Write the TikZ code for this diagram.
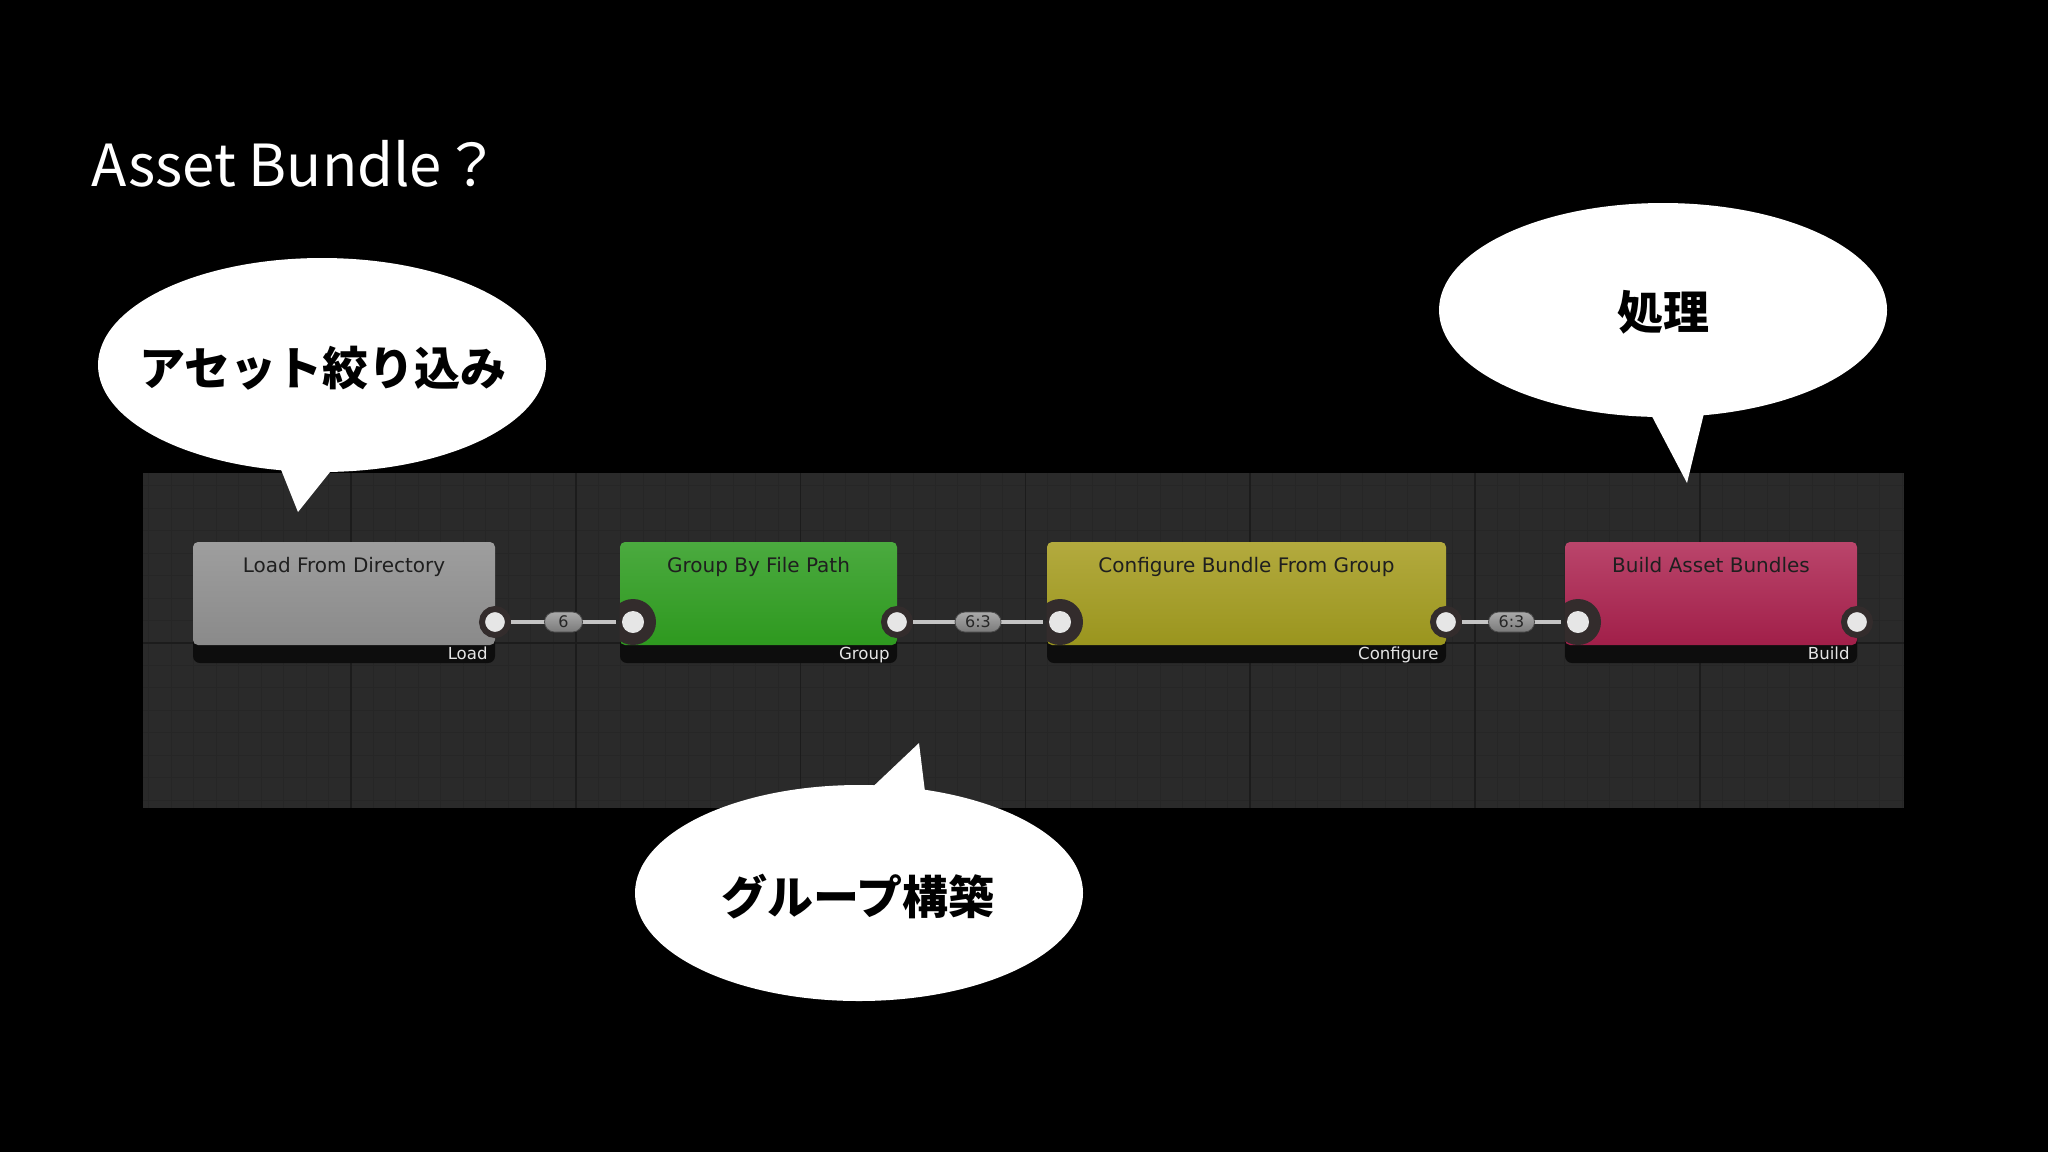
\documentclass[tikz,border=0pt]{standalone}
\usepackage{fontspec}
\newfontfamily\jp{Noto Sans CJK JP}
\newfontfamily\ui{DejaVu Sans}
\usetikzlibrary{shapes.geometric}
\definecolor{panelc}{HTML}{2A2A2A}
\definecolor{minorc}{HTML}{262626}
\definecolor{majorc}{HTML}{1C1C1C}
\definecolor{footc}{HTML}{0D0D0D}
\definecolor{portc}{HTML}{E6E6E6}
\definecolor{ringc}{HTML}{332C2C}
\definecolor{connc}{HTML}{C4C4C4}
\definecolor{grayT}{HTML}{9E9E9E}
\definecolor{grayB}{HTML}{8A8A8A}
\definecolor{greenT}{HTML}{4BAA3F}
\definecolor{greenB}{HTML}{2E991F}
\definecolor{yelT}{HTML}{B3AA3E}
\definecolor{yelB}{HTML}{9A951E}
\definecolor{redT}{HTML}{BA456B}
\definecolor{redB}{HTML}{A11F49}
\definecolor{pillT}{HTML}{AAAAAA}
\definecolor{pillB}{HTML}{7A7A7A}
\begin{document}
\begin{tikzpicture}[x=0.5pt,y=-0.5pt,
  body/.style={rectangle, rounded corners=2.5pt, minimum height=51.5pt, inner sep=0pt, draw=none},
  footer/.style={rectangle, rounded corners=3.5pt, fill=footc, minimum height=26.5pt, inner sep=0pt},
  ntitle/.style={font=\ui\fontsize{10}{12}\selectfont, text=black!88, inner sep=0pt},
  flabel/.style={font=\ui\fontsize{8.3}{10}\selectfont, text=white!90!black, inner sep=0pt},
  outport/.style={circle, fill=portc, draw=ringc, line width=3pt, minimum size=13pt, inner sep=0pt},
  inport/.style={circle, fill=portc, draw=none, minimum size=11pt, inner sep=0pt, outer sep=3pt},
  ring/.style={fill=ringc},
  conn/.style={draw=connc, line width=2pt},
  pill/.style={rectangle, rounded corners=5pt, minimum height=10pt, inner sep=1.5pt, top color=pillT, bottom color=pillB, draw=black!70, line width=0.4pt, font=\ui\fontsize{8}{9}\selectfont, text=black!85},
  bubbletext/.style={font=\jp\bfseries\fontsize{23}{26}\selectfont, text=black, inner sep=0pt},
  minorl/.style={draw=minorc, line width=0.5pt},
  majorl/.style={draw=majorc, line width=0.8pt}
]
\fill[black] (0,0) rectangle (2048,1152);
\useasboundingbox (0,0) rectangle (2048,1152);

% title
\node[anchor=base west, font=\jp\fontsize{29}{32}\selectfont, text=white, inner sep=0pt] (title) at (91,186) {Asset Bundle？};

% panel with grid
\fill[panelc] (143,473) rectangle (1904,808);
\begin{scope}
\clip (143,473) rectangle (1904,808);
\foreach \k in {-9,...,69} \draw[minorl] ({351+22.48*\k},473) -- ({351+22.48*\k},808);
\foreach \k in {-8,...,8} \draw[minorl] (143,{643+22.48*\k}) -- (1904,{643+22.48*\k});
\foreach \k in {0,...,6} \draw[majorl] ({351+224.8*\k},473) -- ({351+224.8*\k},808);
\draw[majorl] (143,643) -- (1904,643);
\end{scope}

% footers
\node[footer, minimum width=151pt] (f1) at (344,636.5) {};
\node[footer, minimum width=138.5pt] (f2) at (758.5,636.5) {};
\node[footer, minimum width=199.5pt] (f3) at (1246.5,636.5) {};
\node[footer, minimum width=146pt] (f4) at (1711,636.5) {};

% bodies
\node[body, minimum width=151pt, top color=grayT, bottom color=grayB] (n1) at (344,593.5) {};
\node[body, minimum width=138.5pt, top color=greenT, bottom color=greenB] (n2) at (758.5,593.5) {};
\node[body, minimum width=199.5pt, top color=yelT, bottom color=yelB] (n3) at (1246.5,593.5) {};
\node[body, minimum width=146pt, top color=redT, bottom color=redB] (n4) at (1711,593.5) {};

% titles
\node[ntitle, anchor=base] (t1) at (344,572) {Load From Directory};
\node[ntitle, anchor=base] (t2) at (758.5,572) {Group By File Path};
\node[ntitle, anchor=base] (t3) at (1246.5,572) {Configure Bundle From Group};
\node[ntitle, anchor=base] (t4) at (1711,572) {Build Asset Bundles};

% footer labels
\node[flabel, anchor=base east] (l1) at (488,659) {Load};
\node[flabel, anchor=base east] (l2) at (890,659) {Group};
\node[flabel, anchor=base east] (l3) at (1439,659) {Configure};
\node[flabel, anchor=base east] (l4) at (1850,659) {Build};

% input port rings, clipped to their node bodies
\coordinate (c2i) at (633,622);
\coordinate (c3i) at (1060,622);
\coordinate (c4i) at (1578,622);
\begin{scope}\clip (n2.south west) rectangle (n2.north east); \fill[ring] (c2i) circle [radius=23]; \end{scope}
\begin{scope}\clip (n3.south west) rectangle (n3.north east); \fill[ring] (c3i) circle [radius=23]; \end{scope}
\begin{scope}\clip (n4.south west) rectangle (n4.north east); \fill[ring] (c4i) circle [radius=23]; \end{scope}

% ports
\node[outport] (p1o) at (495,622) {};
\node[inport] (p2i) at (c2i) {};
\node[outport] (p2o) at (897,622) {};
\node[inport] (p3i) at (c3i) {};
\node[outport] (p3o) at (1446,622) {};
\node[inport] (p4i) at (c4i) {};
\node[outport] (p4o) at (1857,622) {};

% connectors
\draw[conn] (p1o) -- (p2i) node[pill, midway, minimum width=19pt] (c1) {6};
\draw[conn] (p2o) -- (p3i) node[pill, midway, minimum width=23pt] (c2) {6:3};
\draw[conn] (p3o) -- (p4i) node[pill, midway, minimum width=23pt] (c3) {6:3};

% speech bubbles
\fill[white] (322,365) ellipse [x radius=224, y radius=107];
\fill[white] (278,462) -- (298,512) -- (338,462) -- cycle;
\node[bubbletext] (b1) at (323,368) {アセット絞り込み};

\fill[white] (1663,310) ellipse [x radius=224, y radius=107];
\fill[white] (1646,405) -- (1687,483) -- (1706,405) -- cycle;
\node[bubbletext] (b2) at (1663,312) {処理};

\fill[white] (859,893) ellipse [x radius=224, y radius=108];
\fill[white] (862,797) -- (919,743) -- (926,800) -- cycle;
\node[bubbletext] (b3) at (858,897) {グループ構築};
\end{tikzpicture}
\end{document}
